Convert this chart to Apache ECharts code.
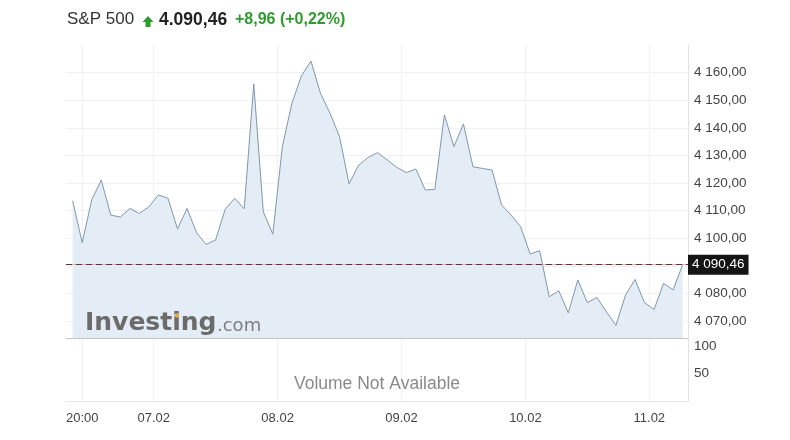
<!DOCTYPE html>
<html><head><meta charset="utf-8">
<script src="https://cdn.jsdelivr.net/npm/echarts@6/dist/echarts.min.js"></script>
<style>html,body{margin:0;padding:0;background:#fff}#c{width:790px;height:440px}</style>
</head><body><div id="c"></div>
<script>
// ---- data ----
const prices = [4113.6,4098.4,4113.9,4121.1,4108.4,4107.7,4110.8,4109.0,4111.4,4115.7,4114.5,4103.4,4110.8,4102.0,4097.8,4099.4,4110.5,4114.5,4110.7,4155.9,4109.6,4101.5,4133.2,4148.9,4158.8,4164.2,4152.5,4145.3,4136.8,4119.7,4126.5,4129.3,4131.0,4128.4,4125.7,4123.8,4125.1,4117.5,4117.7,4144.7,4133.2,4141.4,4125.9,4125.3,4124.7,4112.1,4108.4,4104.2,4094.3,4095.5,4078.8,4081.0,4073.0,4084.9,4076.7,4078.6,4073.4,4068.5,4079.4,4085.1,4076.7,4074.2,4083.7,4081.3,4090.46];
const lastPrice = 4090.46;
const priceTicks = [4070,4080,4090,4100,4110,4120,4130,4140,4150,4160];
const priceTicksShown = [4070,4080,4100,4110,4120,4130,4140,4150,4160];
const volumeTicks = [50,100];
const xTickIndex = [1,8.5,21.5,34.5,47.5,60.5];
const xTickLabels = ['20:00','07.02','08.02','09.02','10.02','11.02'];
const headerName = 'S&P 500';
const headerPrice = '4.090,46';
const headerChange = '+8,96 (+0,22%)';

function fmt(v){
  const s = v.toFixed(2).split('.');
  return s[0].replace(/\B(?=(\d{3})+(?!\d))/g,' ') + ',' + s[1];
}

const FONT = '"Liberation Sans", Arial, sans-serif';
const LOGO = '"DejaVu Sans", sans-serif';
const chart = echarts.init(document.getElementById('c'), null, {renderer:'canvas'});
const seriesData = prices.map((v,i)=>[i,v]);
const xMin = -0.7, xMax = 64.56;
const vSplit = {show:true, lineStyle:{color:'#f1f1f1'}};

chart.setOption({
  animation:false,
  backgroundColor:'#fff',
  grid:[
    {left:66, right:102, top:45, height:293},
    {left:66, right:102, top:338, height:63}
  ],
  xAxis:[
    {gridIndex:0, type:'value', min:xMin, max:xMax,
     axisLine:{show:true, onZero:false, lineStyle:{color:'#c4c4c4', width:1}},
     axisTick:{show:false, customValues:xTickIndex},
     axisLabel:{show:false, customValues:xTickIndex},
     splitLine:vSplit},
    {gridIndex:1, type:'value', min:xMin, max:xMax,
     axisLine:{show:true, onZero:false, lineStyle:{color:'#e8e8e8', width:1}},
     axisTick:{show:false, customValues:xTickIndex},
     axisLabel:{show:true, customValues:xTickIndex, color:'#444', fontSize:13, fontFamily:FONT, margin:11,
       formatter:(v)=>{const k=xTickIndex.indexOf(v); return k>=0?xTickLabels[k]:'';}},
     splitLine:vSplit}
  ],
  yAxis:[
    {gridIndex:0, type:'value', position:'right', min:4063.9, max:4170,
     axisLine:{show:true, onZero:false, lineStyle:{color:'#e2e2e2'}},
     axisTick:{show:false, customValues:priceTicks},
     axisLabel:{customValues:priceTicksShown, color:'#444', fontSize:13.5, fontFamily:FONT, margin:6,
       formatter:(v)=>fmt(v)},
     splitLine:{show:true, lineStyle:{color:'#f1f1f1'}}},
    {gridIndex:1, type:'value', position:'right', min:0, max:115,
     axisLine:{show:true, onZero:false, lineStyle:{color:'#e2e2e2'}},
     axisTick:{show:false, customValues:volumeTicks},
     axisLabel:{customValues:volumeTicks, color:'#444', fontSize:13.5, fontFamily:FONT, margin:6},
     splitLine:{show:false}}
  ],
  series:[
    {type:'line', xAxisIndex:0, yAxisIndex:0, data:seriesData, symbol:'none', smooth:false,
     lineStyle:{color:'#7d98ae', width:1},
     areaStyle:{color:'#e4edf5', origin:'start', opacity:1},
     markLine:{silent:true, symbol:'none',
       data:[
         {yAxis:lastPrice, lineStyle:{color:'#e7a9a9', type:'solid', width:1}, label:{show:false}},
         {yAxis:lastPrice, lineStyle:{color:'#4a3a3a', type:[6,4], width:1},
          label:{show:true, position:'end', distance:0, formatter:()=>fmt(lastPrice),
            color:'#fff', backgroundColor:'#151515', padding:[3,4,3,4], fontSize:13.5, fontFamily:FONT}}
       ]}
    }
  ],
  graphic:[
    {type:'text', left:67, top:11, style:{text:headerName, font:'17px '+FONT, fill:'#333'}},
    {type:'polygon', shape:{points:[[148,16],[153.5,22],[150.5,22],[150.5,27],[145.5,27],[145.5,22],[142.5,22]]}, style:{fill:'#2e9b2e'}},
    {type:'text', left:159, top:11, style:{text:headerPrice, font:'bold 17.5px '+FONT, fill:'#222'}},
    {type:'text', left:235, top:12, style:{text:headerChange, font:'bold 16px '+FONT, fill:'#2e9b2e'}},
    {type:'text', x:85, y:323.5, z:100, style:{text:'Investing', font:'bold 25px '+LOGO, fill:'#6b6b6b', verticalAlign:'middle'}},
    {type:'text', x:217, y:326, z:100, style:{text:'.com', font:'18px '+LOGO, fill:'#7e7e7e', verticalAlign:'middle'}},
    {type:'circle', shape:{cx:177, cy:315.5, r:2.3}, z:101, style:{fill:'#e8b04a'}},
    {type:'text', x:377, y:384, z:100, style:{text:'Volume Not Available', font:'17.5px '+FONT, fill:'#8a8a8a', align:'center', verticalAlign:'middle'}}
  ]
});
</script></body></html>
